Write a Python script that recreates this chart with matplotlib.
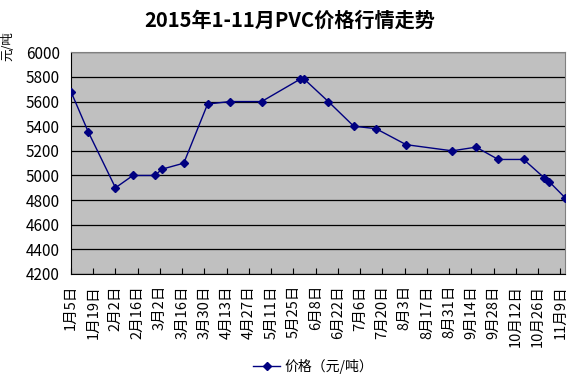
import matplotlib
matplotlib.use("Agg")
import matplotlib.pyplot as plt
import pandas as pd

plt.rcParams['font.family'] = ['Noto Sans CJK SC', 'DejaVu Sans']

# PVC price points (date, yuan/ton)
dates = ["2015-01-05", "2015-01-16", "2015-02-02", "2015-02-13", "2015-02-27",
         "2015-03-03", "2015-03-17", "2015-04-01", "2015-04-15", "2015-05-05",
         "2015-05-29", "2015-06-01", "2015-06-16", "2015-07-02", "2015-07-16",
         "2015-08-04", "2015-09-02", "2015-09-17", "2015-10-01", "2015-10-17",
         "2015-10-30", "2015-11-02", "2015-11-12"]
prices = [5680, 5350, 4900, 5000, 5000, 5050, 5100, 5580, 5600, 5600,
          5780, 5780, 5600, 5400, 5380, 5250, 5200, 5230, 5130, 5130,
          4980, 4950, 4820]

tick_labels = ["1月5日", "1月19日", "2月2日", "2月16日", "3月2日", "3月16日",
               "3月30日", "4月13日", "4月27日", "5月11日", "5月25日", "6月8日",
               "6月22日", "7月6日", "7月20日", "8月3日", "8月17日", "8月31日",
               "9月14日", "9月28日", "10月12日", "10月26日", "11月9日"]
y_ticks = [4200, 4400, 4600, 4800, 5000, 5200, 5400, 5600, 5800, 6000]

x = pd.to_datetime(dates)
tick_pos = pd.date_range(dates[0], periods=len(tick_labels), freq="14D")

fig = plt.figure(figsize=(5.8, 3.78), dpi=100)
ax = fig.add_axes([71/580, 1-274/378, (565-71)/580, (274-52.3)/378])
ax.set_facecolor('#c0c0c0')

ax.plot(x, prices, color='#000080', lw=1, marker='D', markersize=4.5,
        label='价格（元/吨）', zorder=3)

ax.set_xlim(x[0], x[-1])
ax.set_ylim(4200, 6000)
ax.set_yticks(y_ticks)
ax.set_yticklabels([str(v) for v in y_ticks], fontsize=11)
ax.set_xticks(tick_pos)
ax.set_xticklabels(tick_labels, rotation=90, fontsize=10.5)
ax.tick_params(axis='x', direction='in', length=4, pad=8, color='black')
ax.tick_params(axis='y', length=0, pad=8)
ax.grid(axis='y', color='black', lw=0.9)
ax.set_axisbelow(True)
for s in ['top', 'right']:
    ax.spines[s].set_color('#808080')
for s in ['left', 'bottom']:
    ax.spines[s].set_color('black')

fig.text(0.5, 1-20/378, '2015年1-11月PVC价格行情走势', ha='center', va='center',
         fontsize=14.5, fontweight='bold')
fig.text(8/580, 1-46/378, '元/吨', rotation=90, ha='center', va='center', fontsize=9)
fig.legend(loc='center', bbox_to_anchor=(313/580, 1-366/378), frameon=False,
           fontsize=10, handlelength=2.0, handletextpad=0.3)

fig.savefig('out.png', dpi=100)
